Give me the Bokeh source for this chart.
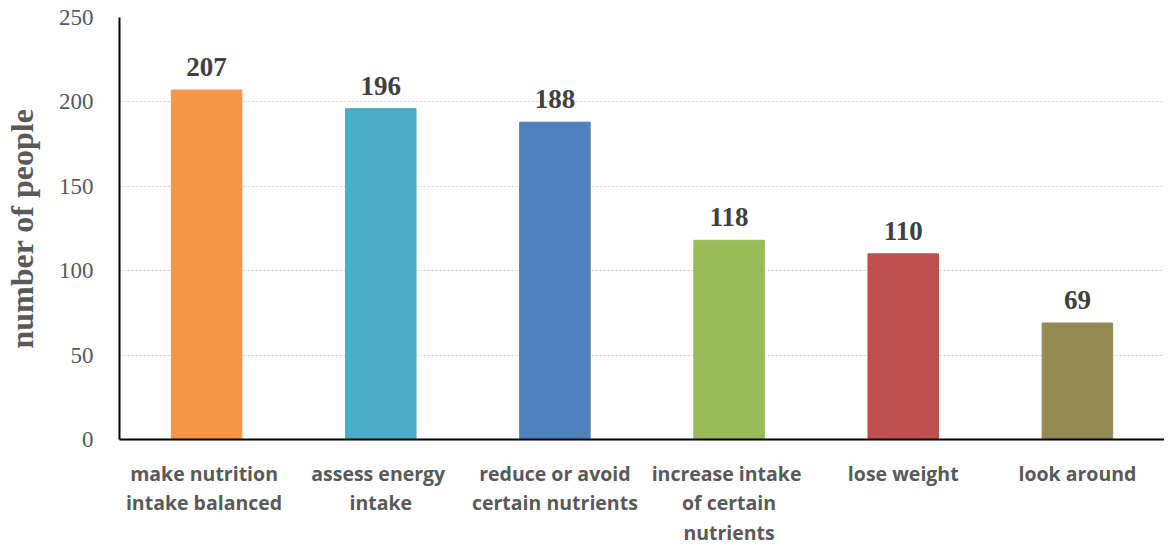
from bokeh.plotting import figure
from bokeh.models import ColumnDataSource, FactorRange, Range1d, LabelSet, FixedTicker
from bokeh.embed import file_html
from bokeh.resources import INLINE
from bokeh.core.properties import value

categories = [
    "make  nutrition\nintake  balanced",
    "assess  energy\nintake",
    "reduce or avoid\ncertain nutrients",
    "increase  intake\nof certain\nnutrients",
    "lose weight",
    "look around",
]
counts = [207, 196, 188, 118, 110, 69]
colors = ["#F79646", "#4BACC6", "#4F81BD", "#9BBB59", "#C0504D", "#948A54"]
y_ticks = [0, 50, 100, 150, 200, 250]

src = ColumnDataSource(dict(cat=categories, n=counts, color=colors,
                            lab=[str(v) for v in counts]))

p = figure(x_range=FactorRange(*categories, range_padding=0.0),
           y_range=Range1d(0, 250),
           width=1164, height=549, output_backend="svg", toolbar_location=None,
           min_border_left=119, min_border_right=0, min_border_top=17, min_border_bottom=108)
p.x_range.factor_padding = 0
p.outline_line_color = None
p.background_fill_color = "white"

p.vbar(x="cat", top="n", width=0.405, color="color", source=src)

labels = LabelSet(x="cat", y="n", text="lab", source=src, text_align="center",
                  text_baseline="bottom", y_offset=14,
                  text_font=value("Liberation Serif"), text_font_style="bold",
                  text_font_size="27px", text_color="#404040")
p.add_layout(labels)

p.yaxis.ticker = FixedTicker(ticks=y_ticks)
p.yaxis.major_label_text_font = "Liberation Serif"
p.yaxis.major_label_text_font_size = "23px"
p.yaxis.major_label_text_color = "#595959"
p.yaxis.major_tick_line_color = None
p.yaxis.minor_tick_line_color = None
p.yaxis.major_label_standoff = 20
p.yaxis.axis_line_color = "black"
p.yaxis.axis_line_width = 2
p.yaxis.axis_label = "number of people"
p.yaxis.axis_label_text_font = "Liberation Serif"
p.yaxis.axis_label_text_font_style = "bold"
p.yaxis.axis_label_text_font_size = "32px"
p.yaxis.axis_label_text_color = "#595959"
p.yaxis.axis_label_standoff = 16

p.xaxis.major_label_text_font = "Open Sans"
p.xaxis.major_label_text_font_style = "bold"
p.xaxis.major_label_text_font_size = "19.5px"
p.xaxis.major_label_text_color = "#595959"
p.xaxis.major_label_text_line_height = 1.11
p.xaxis.major_tick_line_color = None
p.xaxis.minor_tick_line_color = None
p.xaxis.major_label_standoff = 14
p.xaxis.axis_line_color = "black"
p.xaxis.axis_line_width = 2

p.xgrid.grid_line_color = None
p.ygrid.grid_line_color = "#D0D0D0"
p.ygrid.grid_line_dash = "2 2"
p.ygrid.grid_line_width = 1

open("out.html", "w").write(file_html(p, INLINE))
